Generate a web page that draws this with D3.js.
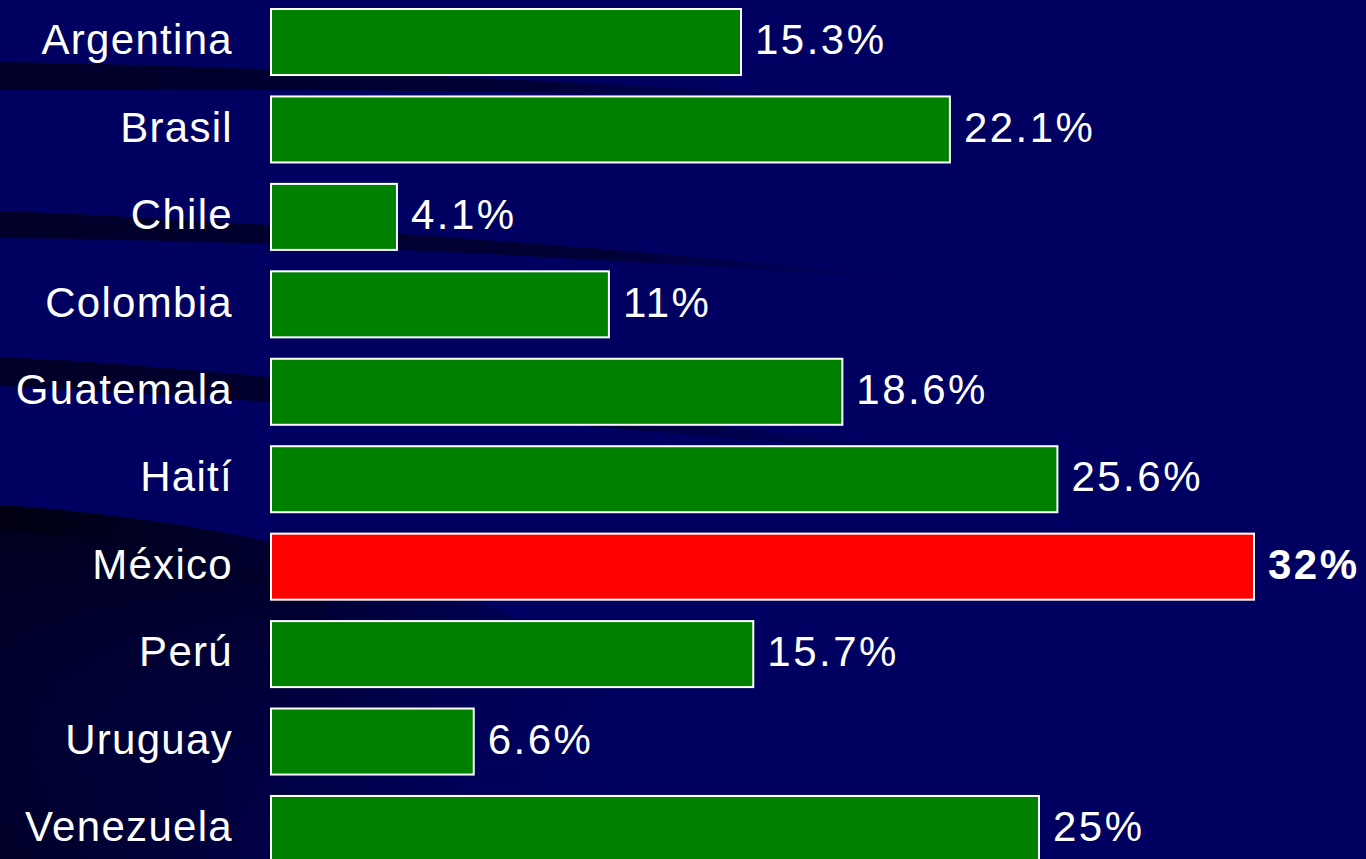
<!DOCTYPE html>
<html>
<head>
<meta charset="utf-8">
<script src="https://cdn.jsdelivr.net/npm/d3@7"></script>
<style>
  html, body { margin: 0; padding: 0; background: #000060; overflow: hidden; }
  svg { display: block; }
</style>
</head>
<body>
<svg id="chart" width="1366" height="859"></svg>
<script>
const countries = ["Argentina", "Brasil", "Chile", "Colombia", "Guatemala", "Haití", "México", "Perú", "Uruguay", "Venezuela"];
const values = [15.3, 22.1, 4.1, 11, 18.6, 25.6, 32, 15.7, 6.6, 25];
const valueLabels = ["15.3%", "22.1%", "4.1%", "11%", "18.6%", "25.6%", "32%", "15.7%", "6.6%", "25%"];
const highlight = "México";

const W = 1366, H = 859;
const svg = d3.select("#chart");

// background
const defs = svg.append("defs");
const g1 = defs.append("linearGradient").attr("id", "sw1").attr("x1", "0").attr("x2", "1").attr("y1", "0").attr("y2", "0");
g1.append("stop").attr("offset", "0").attr("stop-color", "#000028").attr("stop-opacity", 1);
g1.append("stop").attr("offset", "0.6").attr("stop-color", "#000030").attr("stop-opacity", 0.9);
g1.append("stop").attr("offset", "1").attr("stop-color", "#000060").attr("stop-opacity", 0);

const g2 = defs.append("linearGradient").attr("id", "sw2").attr("x1", "0").attr("x2", "1").attr("y1", "0").attr("y2", "0.3");
g2.append("stop").attr("offset", "0").attr("stop-color", "#000010").attr("stop-opacity", 1);
g2.append("stop").attr("offset", "0.5").attr("stop-color", "#000030").attr("stop-opacity", 0.8);
g2.append("stop").attr("offset", "1").attr("stop-color", "#000060").attr("stop-opacity", 0);

const g3 = defs.append("linearGradient").attr("id", "sw3").attr("x1", "0").attr("x2", "0").attr("y1", "0").attr("y2", "1");
g3.append("stop").attr("offset", "0").attr("stop-color", "#000020").attr("stop-opacity", 0.95);
g3.append("stop").attr("offset", "1").attr("stop-color", "#000060").attr("stop-opacity", 0);

svg.append("rect").attr("width", W).attr("height", H).attr("fill", "#000060");

const bg = svg.append("g");
bg.append("path").attr("fill", "url(#sw1)")
  .attr("d", "M0,62 C250,66 550,80 900,100 C600,92 300,88 0,90 Z");
bg.append("path").attr("fill", "url(#sw1)")
  .attr("d", "M0,211 C200,218 600,245 1000,285 C650,262 300,240 0,238 Z");
bg.append("path").attr("fill", "url(#sw1)")
  .attr("d", "M0,357 C200,365 600,410 1000,460 C650,432 300,400 0,386 Z");
bg.append("path").attr("fill", "url(#sw2)")
  .attr("d", "M0,505 C150,515 350,545 520,620 C700,700 750,760 760,859 L0,859 Z");
bg.append("path").attr("fill", "url(#sw3)")
  .attr("d", "M0,530 C120,540 250,560 330,600 L330,859 L0,859 Z");

const x = d3.scaleLinear().domain([0, 32]).range([271, 1254]);
const y = d3.scaleBand().domain(countries).range([-1.7, -1.7 + 87.44 * 10]).paddingInner(0.245).paddingOuter(0.1225);

const rows = svg.append("g").selectAll("g").data(countries).join("g");

rows.append("rect")
  .attr("x", x(0))
  .attr("y", d => y(d))
  .attr("width", (d, i) => x(values[i]) - x(0))
  .attr("height", y.bandwidth())
  .attr("fill", d => d === highlight ? "#ff0000" : "#008000")
  .attr("stroke", "#ffffff")
  .attr("stroke-width", 2);

rows.append("text")
  .attr("x", 233)
  .attr("y", d => y(d) + y.bandwidth() / 2)
  .attr("dy", "0.29em")
  .attr("text-anchor", "end")
  .attr("fill", "#ffffff")
  .attr("font-family", "'Liberation Sans', Arial, sans-serif")
  .attr("font-size", 42)
  .attr("letter-spacing", 1.3)
  .text(d => d);

rows.append("text")
  .attr("x", (d, i) => x(values[i]) + 14)
  .attr("y", d => y(d) + y.bandwidth() / 2)
  .attr("dy", "0.29em")
  .attr("fill", "#ffffff")
  .attr("font-family", "'Liberation Sans', Arial, sans-serif")
  .attr("font-size", 42)
  .attr("font-weight", d => d === highlight ? "bold" : "normal")
  .attr("letter-spacing", 2.5)
  .text((d, i) => valueLabels[i]);
</script>
</body>
</html>
